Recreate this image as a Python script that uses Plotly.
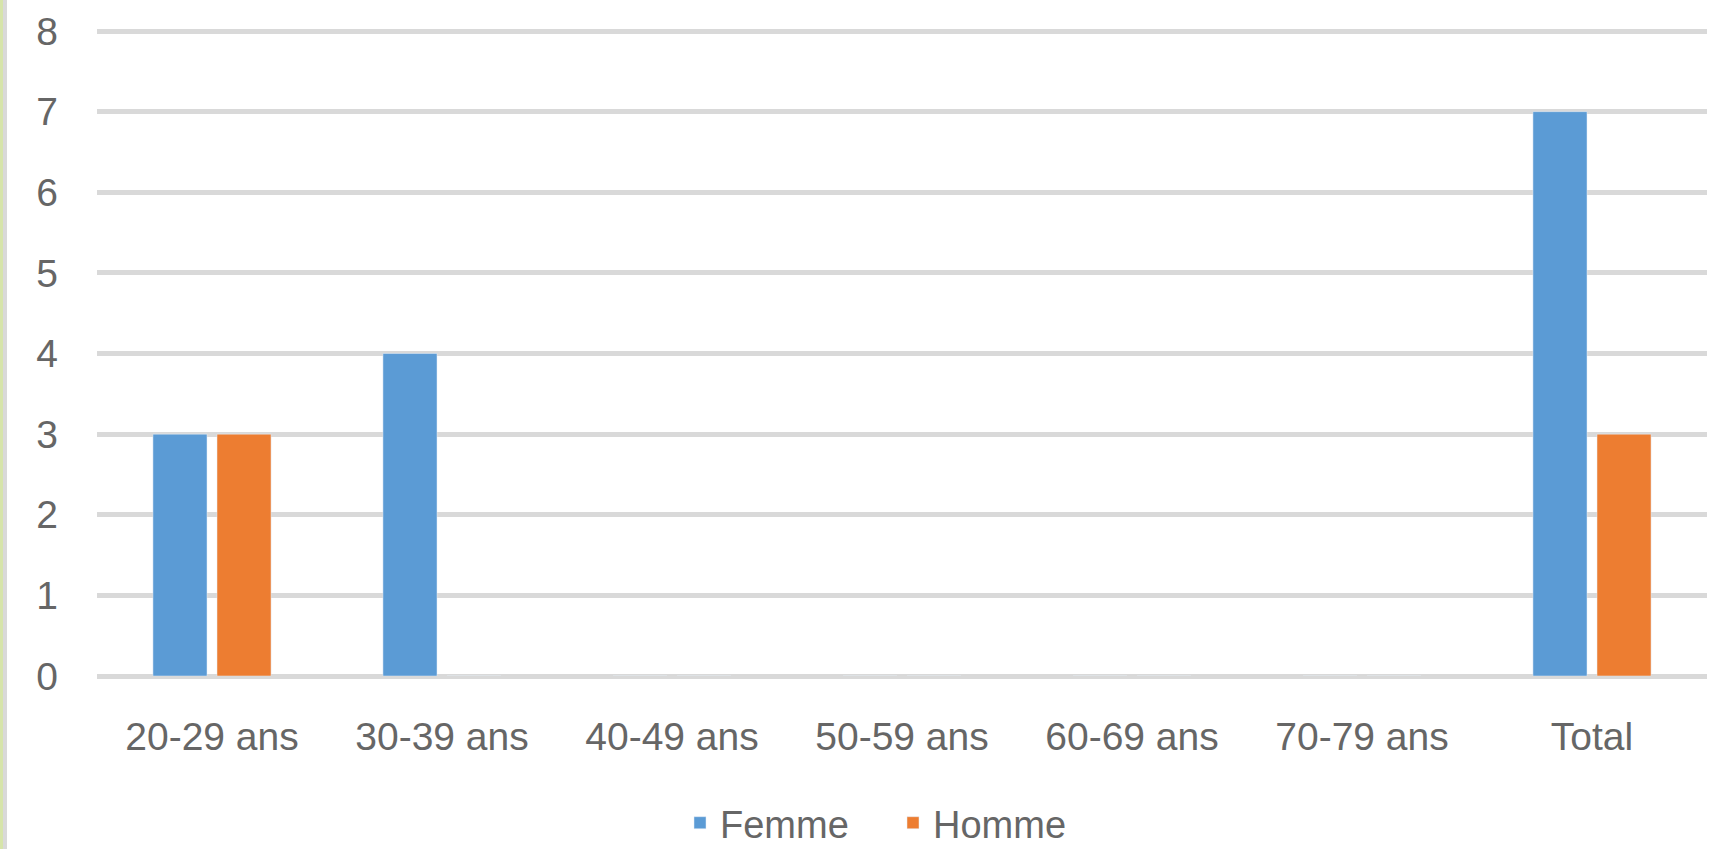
import plotly.graph_objects as go

categories = ["20-29 ans", "30-39 ans", "40-49 ans", "50-59 ans", "60-69 ans", "70-79 ans", "Total"]
femme = [3, 4, 0, 0, 0, 0, 7]
homme = [3, 0, 0, 0, 0, 0, 3]
y_ticks = [0, 1, 2, 3, 4, 5, 6, 7, 8]

W, H = 1730, 849
ML, MR, MT, MB = 97, 23, 27, 173
plot_w = W - ML - MR
plot_h = H - MT - MB

FONT = "Liberation Sans"
TXT = "#666666"
GRID = "#d9d9d9"

fig = go.Figure()
fig.add_trace(go.Bar(name="Femme", x=categories, y=femme, marker_color="#5b9bd5"))
fig.add_trace(go.Bar(name="Homme", x=categories, y=homme, marker_color="#ed7d31"))

fig.update_layout(
    width=W, height=H,
    margin=dict(l=ML, r=MR, t=MT, b=MB, pad=0, autoexpand=False),
    paper_bgcolor="white", plot_bgcolor="white",
    barmode="group", bargap=0.443, bargroupgap=0.156,
    font=dict(family=FONT, size=39, color=TXT),
    showlegend=True,
    legend=dict(orientation="h", x=(680 - ML) / plot_w, xanchor="left", y=1 - 823 / H, yanchor="middle",
                yref="container", font=dict(family=FONT, size=38, color=TXT),
                itemwidth=30, tracegroupgap=0, entrywidth=168, entrywidthmode="pixels"),
    xaxis=dict(showgrid=False, showline=False, ticks="", zeroline=False, automargin=False,
               tickfont=dict(family=FONT, size=39, color=TXT), ticklabelstandoff=34),
    yaxis=dict(range=[0, 8.05], tickvals=y_ticks, showgrid=True, gridcolor=GRID, gridwidth=5,
               zeroline=True, zerolinecolor=GRID, zerolinewidth=5, showline=False, ticks="",
               automargin=False,
               tickfont=dict(family=FONT, size=39, color=TXT), ticklabelstandoff=38),
    shapes=[
        dict(type="rect", xref="paper", yref="paper", x0=-ML / plot_w, x1=(3 - ML) / plot_w,
             y0=-MB / plot_h, y1=1 + MT / plot_h, fillcolor="#d6e4aa", line_width=0, layer="below"),
        dict(type="rect", xref="paper", yref="paper", x0=(3 - ML) / plot_w, x1=(7 - ML) / plot_w,
             y0=-MB / plot_h, y1=1 + MT / plot_h, fillcolor=GRID, line_width=0, layer="below"),
    ],
)

fig.write_html("out.html", config={"displayModeBar": False},
               post_script="document.body.style.margin='0';document.body.style.overflow='hidden';")
